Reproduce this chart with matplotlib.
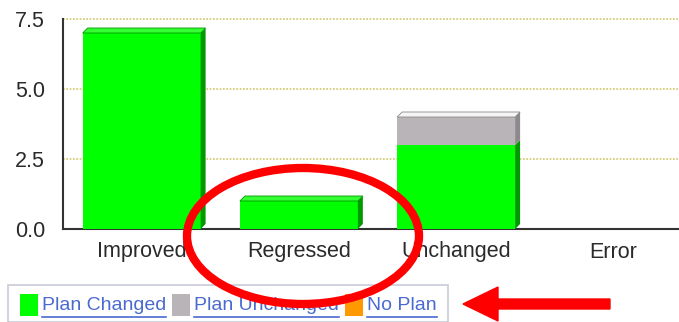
import numpy as np
import matplotlib
matplotlib.use("Agg")
import matplotlib.pyplot as plt
from matplotlib.patches import Polygon, Rectangle, Ellipse, FancyArrow
from matplotlib.transforms import IdentityTransform

plt.rcParams['font.family'] = ['Liberation Sans', 'DejaVu Sans']

categories = ["Improved", "Regressed", "Unchanged", "Error"]
plan_changed = [7, 1, 3, 0]
plan_unchanged = [0, 0, 1, 0]
no_plan = [0, 0, 0, 0]
yticks = [0.0, 2.5, 5.0, 7.5]

series = [
    ("Plan Changed", plan_changed, "#00ff00", "#009900", "#33ff33"),
    ("Plan Unchanged", plan_unchanged, "#b8b4b8", "#8c8a8c", "#f4f4f4"),
    ("No Plan", no_plan, "#ff9900", "#c07000", "#ffc060"),
]

W, H = 679, 322
fig = plt.figure(figsize=(W / 100, H / 100), dpi=100)
ax = fig.add_axes([63 / W, (H - 229) / H, 629 / W, 210 / H])
ax.set_xlim(-0.5, 3.5)
ax.set_ylim(0, 7.5)

# pixel -> data scale for the fake 3d depth
px_x = 4.0 / 629
px_y = 7.5 / 210
dx, dy = 5 * px_x, 5 * px_y
bw = 0.75

x = np.arange(len(categories))
totals = np.array(plan_changed) + np.array(plan_unchanged) + np.array(no_plan)
bottom = np.zeros(len(categories))
for name, vals, front, side, top in series:
    for i, v in enumerate(vals):
        if v <= 0:
            continue
        x0 = x[i] - bw / 2
        x1 = x[i] + bw / 2
        y0, y1 = bottom[i], bottom[i] + v
        ax.add_patch(Rectangle((x0, y0), bw, v, facecolor=front, edgecolor="none", zorder=3))
        ax.add_patch(Polygon([(x1, y0), (x1 + dx, y0 + dy), (x1 + dx, y1 + dy), (x1, y1)],
                             closed=True, facecolor=side, edgecolor="none", zorder=3))
        if y1 >= totals[i]:
            ax.add_patch(Polygon([(x0, y1), (x0 + dx, y1 + dy), (x1 + dx, y1 + dy), (x1, y1)],
                                 closed=True, facecolor=top, edgecolor=side, lw=0.6, zorder=3))
    bottom += np.array(vals)

for yv in yticks[1:]:
    ax.axhline(yv, color="#cfc86a", lw=1.2, ls=(0, (1, 1)), zorder=1, clip_on=False)

for s in ["top", "right"]:
    ax.spines[s].set_visible(False)
ax.spines["left"].set_color("#333333")
ax.spines["bottom"].set_color("#333333")
ax.spines["left"].set_linewidth(1.5)
ax.spines["bottom"].set_linewidth(1.5)
ax.set_yticks(yticks)
ax.set_yticklabels([f"{t:.1f}" for t in yticks])
ax.set_xticks(x)
ax.set_xticklabels(categories)
ax.tick_params(axis="both", length=0, labelsize=15.5, colors="#2a2a2a")
ax.tick_params(axis="y", pad=13)
ax.tick_params(axis="x", pad=9)

# legend strip
fig.patches.append(Rectangle((8, 0), 440, H - 285, transform=IdentityTransform(),
                             facecolor="white", edgecolor="#c8ccd8", lw=1.2))
fig.canvas.draw()
renderer = fig.canvas.get_renderer()
xpos = 20
for name, vals, front, side, top in series:
    fig.patches.append(Rectangle((xpos, H - 316), 18, 22, transform=IdentityTransform(),
                                 facecolor=front, edgecolor="none"))
    t = fig.text((xpos + 22) / W, (H - 305) / H, name, fontsize=14, color="#4a6ad0",
                 va="center", ha="left")
    bb = t.get_window_extent(renderer)
    fig.lines.append(plt.Line2D([bb.x0, bb.x1], [H - 317, H - 317], transform=IdentityTransform(),
                                color="#4a6ad0", lw=1.2))
    xpos = bb.x1 + 6

# highlight around the regressed bar
fig.patches.append(Ellipse((303, H - 236), 232, 136, transform=IdentityTransform(),
                           facecolor="none", edgecolor="#ff0000", lw=6, zorder=10))
fig.patches.append(FancyArrow(610, H - 304, -147, 0, width=10, head_width=34, head_length=35,
                              length_includes_head=True, transform=IdentityTransform(),
                              color="#ff0000", zorder=10))

fig.savefig("out.png", dpi=100)
